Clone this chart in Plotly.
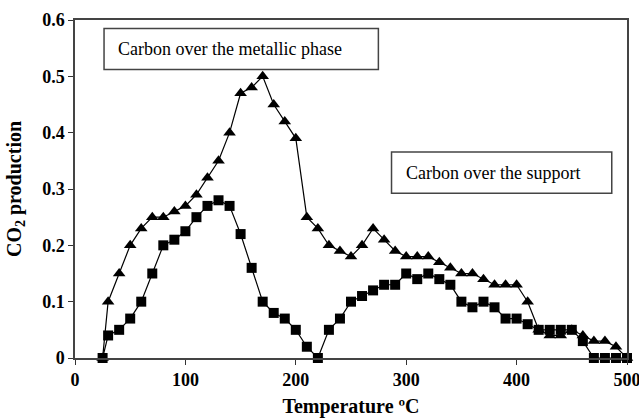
import plotly.graph_objects as go

# Temperature-programmed oxidation: CO2 evolved vs temperature
temperature = [25, 30, 40, 50, 60, 70, 80, 90, 100, 110, 120, 130, 140, 150, 160,
               170, 180, 190, 200, 210, 220, 230, 240, 250, 260, 270, 280, 290, 300,
               310, 320, 330, 340, 350, 360, 370, 380, 390, 400, 410, 420, 430, 440,
               450, 460, 470, 480, 490, 500]

co2_squares = [0.0, 0.04, 0.05, 0.07, 0.10, 0.15, 0.20, 0.21, 0.225, 0.25, 0.27, 0.28,
               0.27, 0.22, 0.16, 0.10, 0.08, 0.07, 0.05, 0.02, 0.0, 0.05, 0.07, 0.10,
               0.11, 0.12, 0.13, 0.13, 0.15, 0.14, 0.15, 0.14, 0.13, 0.10, 0.09, 0.10,
               0.09, 0.07, 0.07, 0.06, 0.05, 0.05, 0.05, 0.05, 0.03, 0.0, 0.0, 0.0, 0.0]

co2_triangles = [0.0, 0.10, 0.15, 0.20, 0.23, 0.25, 0.25, 0.26, 0.27, 0.29, 0.32, 0.35,
                 0.40, 0.47, 0.48, 0.50, 0.45, 0.42, 0.39, 0.25, 0.23, 0.20, 0.19, 0.18,
                 0.20, 0.23, 0.21, 0.19, 0.18, 0.18, 0.18, 0.17, 0.16, 0.15, 0.15, 0.14,
                 0.13, 0.13, 0.13, 0.10, 0.05, 0.04, 0.04, 0.05, 0.04, 0.03, 0.03, 0.02, 0.0]

x_ticks = [0, 100, 200, 300, 400, 500]
x_tick_text = ["0", "100", "200", "300", "400", "500"]
y_ticks = [0, 0.1, 0.2, 0.3, 0.4, 0.5, 0.6]
y_tick_text = ["0", "0.1", "0.2", "0.3", "0.4", "0.5", "0.6"]

label_metal = "Carbon over the metallic phase"
label_support = "Carbon over the support"

SERIF = "Liberation Serif"

fig = go.Figure()

fig.add_trace(go.Scatter(
    x=temperature, y=co2_triangles, mode="lines+markers",
    line=dict(color="black", width=1.2),
    marker=dict(symbol="triangle-up", size=11, color="black"),
    showlegend=False, cliponaxis=False,
))
fig.add_trace(go.Scatter(
    x=temperature, y=co2_squares, mode="lines+markers",
    line=dict(color="black", width=1.2),
    marker=dict(symbol="square", size=10, color="black"),
    showlegend=False, cliponaxis=False,
))

# Labelled boxes inside the plot: (text, x0, x1, y_bottom, y_top, text x)
boxes = [
    (label_metal, 26.3, 274.8, 0.512, 0.585, 37.3),
    (label_support, 286.7, 486.2, 0.2925, 0.3655, 298.0),
]
for text, x0, x1, y0, y1, tx in boxes:
    fig.add_shape(type="rect", xref="x", yref="y", x0=x0, x1=x1, y0=y0, y1=y1,
                  line=dict(color="#444", width=1.5), fillcolor="white", layer="below")
    fig.add_annotation(x=tx, y=(y0 + y1) / 2, xref="x", yref="y", text=text,
                       showarrow=False, xanchor="left", yanchor="middle",
                       font=dict(family=SERIF, size=18, color="black"))

fig.update_layout(
    width=639, height=418,
    margin=dict(l=75, r=12, t=20, b=60, autoexpand=False),
    paper_bgcolor="white", plot_bgcolor="white",
    font=dict(family=SERIF, color="black"),
)

fig.update_xaxes(
    range=[0, 500], tickvals=x_ticks, ticktext=["<b>%s</b>" % t for t in x_tick_text],
    ticks="outside", ticklen=5, tickwidth=1, automargin=False,
    ticklabeloverflow="allow",
    tickcolor="#333", showline=True, linecolor="#444", linewidth=1.5, mirror=True,
    showgrid=False, zeroline=False,
    tickfont=dict(family=SERIF, size=18, color="black"),
    title=dict(text="<b>Temperature ºC</b>", font=dict(family=SERIF, size=20)),
)
fig.update_yaxes(
    range=[0, 0.6], tickvals=y_ticks, ticktext=["<b>%s</b>" % t for t in y_tick_text],
    ticks="outside", ticklen=5, tickwidth=1, tickcolor="#333", showline=True,
    automargin=False, ticklabeloverflow="allow",
    linecolor="#444", linewidth=1.5, mirror=True, showgrid=False, zeroline=False,
    tickfont=dict(family=SERIF, size=18, color="black"),
    title=dict(text="<b>CO<sub>2</sub> production</b>", font=dict(family=SERIF, size=20)),
)

fig.write_html("out.html")
